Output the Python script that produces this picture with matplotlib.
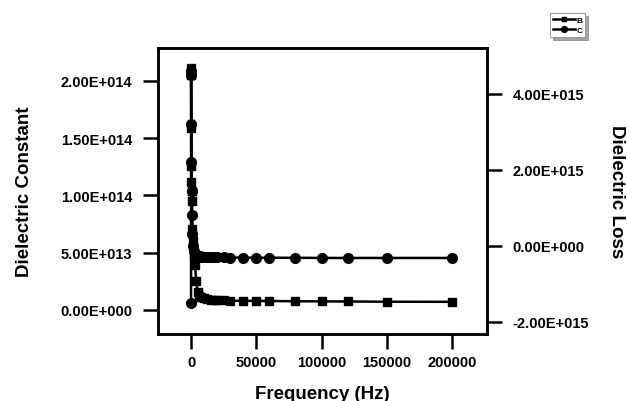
import matplotlib
matplotlib.use('Agg')
import matplotlib.pyplot as plt
from matplotlib.ticker import FuncFormatter, FixedLocator

plt.rcParams['font.family'] = ['Liberation Sans', 'DejaVu Sans']
plt.rcParams['font.weight'] = 'bold'

# frequency (Hz)
freq = [20, 50, 100, 200, 300, 500, 700, 1000, 1500, 2000, 3000, 4000,
        5000, 6000, 7000, 8000, 10000, 12000, 15000, 18000, 20000, 25000,
        30000, 40000, 50000, 60000, 80000, 100000, 120000, 150000, 200000]

# dielectric constant (B, squares, left axis)
diel_const = [2.11e14, 2.05e14, 1.59e14, 1.26e14, 1.12e14, 1.04e14, 9.5e13,
              7.1e13, 6.0e13, 4.7e13, 3.9e13, 2.5e13, 1.6e13, 1.25e13,
              1.15e13, 1.1e13, 1.0e13, 9.5e12, 9.0e12, 8.7e12, 8.5e12,
              8.2e12, 8.0e12, 7.9e12, 7.8e12, 7.7e12, 7.5e12, 7.4e12,
              7.3e12, 7.1e12, 7.0e12]

# dielectric loss (C, circles, right axis)
diel_loss = [-1.5e15, 4.6e15, 4.5e15, 3.2e15, 2.2e15, 1.45e15, 8.0e14,
             3.0e14, 0.0, -1.5e14, -2.3e14, -2.6e14, -2.7e14, -2.75e14,
             -2.8e14, -2.85e14, -2.9e14, -2.95e14, -3.0e14, -3.0e14,
             -3.05e14, -3.05e14, -3.1e14, -3.1e14, -3.15e14, -3.15e14,
             -3.15e14, -3.2e14, -3.2e14, -3.2e14, -3.2e14]

x_ticks = [0, 50000, 100000, 150000, 200000]
left_ticks = [0, 5e13, 1e14, 1.5e14, 2e14]
right_ticks = [-2e15, 0, 2e15, 4e15]


def sci(v, pos=None):
    if v == 0:
        return '0.00E+000'
    s = '%.2E' % v
    m, e = s.split('E')
    sign = e[0]
    return '%sE%s%03d' % (m, sign, abs(int(e)))


fig = plt.figure(figsize=(6.27, 4.02), dpi=100)
ax = fig.add_axes([0.252, 0.167, 0.525, 0.711])
ax2 = ax.twinx()

l1, = ax.plot(freq, diel_const, '-s', color='black', lw=1.8, ms=6, label='B')
l2, = ax2.plot(freq, diel_loss, '-o', color='black', lw=1.8, ms=7, label='C')

ax.set_xlim(-25300, 226800)
ax.set_ylim(-2.1e13, 2.288e14)
ax2.set_ylim(-2.32e15, 5.21e15)

ax.xaxis.set_major_locator(FixedLocator(x_ticks))
ax.yaxis.set_major_locator(FixedLocator(left_ticks))
ax2.yaxis.set_major_locator(FixedLocator(right_ticks))
ax.yaxis.set_major_formatter(FuncFormatter(sci))
ax2.yaxis.set_major_formatter(FuncFormatter(sci))

for a in (ax, ax2):
    for sp in a.spines.values():
        sp.set_linewidth(1.8)
    a.tick_params(length=10.5, width=1.8, labelsize=10.5, pad=8)
ax.tick_params(axis='x', pad=5)

ax.set_xlabel('Frequency (Hz)', fontsize=13.5, fontweight='bold', labelpad=11)
ax.set_ylabel('Dielectric Constant', fontsize=13.5, fontweight='bold', labelpad=20)
ax2.set_ylabel('Dielectric Loss', fontsize=13.5, fontweight='bold',
               rotation=-90, labelpad=26)

leg = fig.legend(handles=[l1, l2], loc='upper right',
                 bbox_to_anchor=(0.94, 0.975), fontsize=6, frameon=True,
                 fancybox=False, shadow=True, handlelength=2.6,
                 handletextpad=0.2, borderpad=0.35, labelspacing=0.25,
                 markerscale=0.6)
leg.get_frame().set_edgecolor('#888888')
leg.get_frame().set_linewidth(0.6)

fig.savefig('out.png', dpi=100)
